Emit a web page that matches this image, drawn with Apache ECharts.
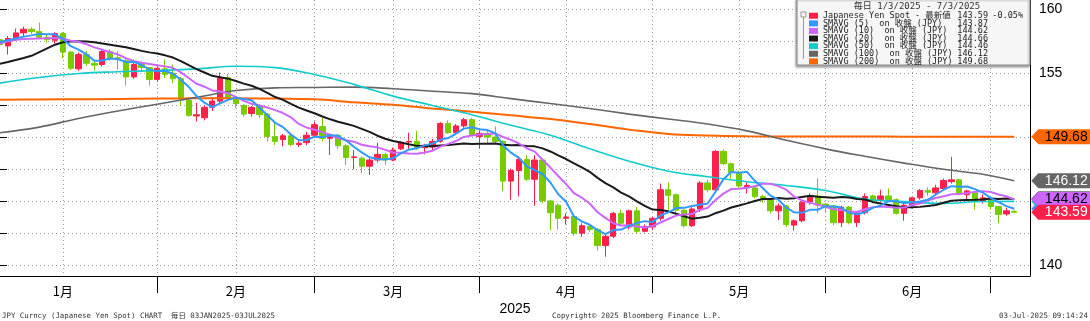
<!DOCTYPE html>
<html><head><meta charset="utf-8">
<script src="https://cdn.jsdelivr.net/npm/echarts@6/dist/echarts.min.js"></script>
<style>html,body{margin:0;padding:0;background:#fff}#c{width:1090px;height:321px}</style>
</head><body><div id="c"></div><script>
// ---------- data ----------
const dates = ['1/3','1/6','1/7','1/8','1/9','1/10','1/13','1/14','1/15','1/16','1/17','1/20','1/21','1/22','1/23','1/24','1/27','1/28','1/29','1/30','1/31',
'2/3','2/4','2/5','2/6','2/7','2/10','2/11','2/12','2/13','2/14','2/17','2/18','2/19','2/20','2/21','2/24','2/25','2/26','2/27','2/28',
'3/3','3/4','3/5','3/6','3/7','3/10','3/11','3/12','3/13','3/14','3/17','3/18','3/19','3/20','3/21','3/24','3/25','3/26','3/27','3/28','3/31',
'4/1','4/2','4/3','4/4','4/7','4/8','4/9','4/10','4/11','4/14','4/15','4/16','4/17','4/18','4/21','4/22','4/23','4/24','4/25','4/28','4/29','4/30',
'5/1','5/2','5/5','5/6','5/7','5/8','5/9','5/12','5/13','5/14','5/15','5/16','5/19','5/20','5/21','5/22','5/23','5/26','5/27','5/28','5/29','5/30',
'6/2','6/3','6/4','6/5','6/6','6/9','6/10','6/11','6/12','6/13','6/16','6/17','6/18','6/19','6/20','6/23','6/24','6/25','6/26','6/27','6/30',
'7/1','7/2','7/3'];
const padCats = ['7/4','7/7'];

const openP = [157.5,157.0,157.65,158.05,158.35,158.15,157.7,157.45,158.0,156.5,
155.15,156.3,155.6,155.5,156.55,156.05,155.8,154.5,155.5,155.25,
154.3,155.15,154.8,154.35,152.6,151.35,151.2,152.05,152.55,154.45,
152.8,152.2,151.55,152.2,151.5,149.7,149.45,149.75,149.05,149.2,
149.8,150.5,149.55,149.8,148.95,148.0,147.95,147.3,147.8,148.25,
147.8,148.7,149.25,149.3,148.8,148.85,149.3,150.75,150.0,150.55,
151.05,149.7,149.95,149.65,149.3,146.1,146.95,147.85,146.25,147.8,
144.5,144.15,143.1,143.25,141.9,142.45,142.2,140.9,141.65,143.5,
142.4,143.7,142.05,142.4,143.1,145.4,145.0,143.75,142.5,143.85,
145.95,145.4,148.5,147.5,146.8,145.65,145.55,144.85,144.6,143.7,
144.1,142.55,142.9,144.45,144.9,144.25,144.1,142.75,144.0,142.75,
143.55,144.9,144.6,144.9,144.6,143.5,144.15,144.75,145.35,145.15,
145.5,146.05,146.2,145.0,145.15,144.5,144.65,144.05,143.45,143.66];
const closeP = [157.1,157.6,158.05,158.35,158.15,157.7,157.5,158.0,156.5,155.2,
156.3,155.6,155.45,156.55,156.05,156.0,154.5,155.5,155.25,154.3,
155.2,154.7,154.35,152.85,151.4,151.45,152.05,152.55,154.4,152.8,
152.35,151.5,152.05,151.45,149.7,149.3,149.75,149.05,149.15,149.8,
150.65,149.55,149.8,148.95,148.0,148.05,147.3,147.8,148.25,147.8,
148.6,149.2,149.3,148.8,149.0,149.3,150.75,150.0,150.55,151.05,
149.85,149.95,149.65,149.3,146.1,146.95,147.85,146.25,147.8,144.5,
143.55,143.1,143.2,141.9,142.5,142.2,140.9,141.65,143.5,142.7,
143.7,142.05,142.4,143.1,145.4,144.95,143.75,142.5,143.85,145.95,
145.4,148.5,147.5,146.8,145.7,145.75,144.85,144.6,143.7,144.1,
142.6,142.9,144.4,144.9,144.15,144.05,142.75,144.0,142.75,143.55,
144.85,144.55,144.9,144.55,143.5,144.15,144.75,145.35,145.2,145.55,
146.15,146.2,145.1,145.3,144.5,144.75,144.05,143.4,143.7,143.59];
const lowP = [156.9,156.3,157.4,157.8,157.95,157.55,157.25,157.2,156.0,155.05,
155.0,155.4,155.0,155.35,155.8,155.1,153.8,154.35,154.9,153.8,
154.1,154.4,154.0,152.2,151.3,150.9,151.0,151.75,152.4,152.6,
152.0,151.3,151.3,151.2,149.3,149.0,148.9,148.9,148.85,149.0,
149.6,149.3,148.2,148.7,147.4,147.05,146.75,146.6,147.6,147.4,
147.7,148.6,148.6,148.6,148.25,148.6,149.2,149.9,149.8,150.4,
149.75,148.7,149.1,149.1,145.3,144.6,144.85,146.1,144.1,144.3,
142.15,142.2,142.6,141.7,141.6,142.0,140.5,140.0,141.5,142.5,
142.2,141.9,141.95,142.15,142.9,143.8,143.5,142.35,142.4,143.6,
145.2,145.3,147.4,146.25,145.5,145.1,144.7,144.35,143.5,142.95,
142.4,142.1,142.8,144.2,143.5,143.6,142.55,142.4,142.6,142.4,
143.4,144.3,144.4,144.4,143.4,142.9,143.9,144.6,144.9,145.0,
145.4,145.9,144.95,144.6,143.8,144.3,143.8,142.7,143.3,143.55];
const highP = [157.6,157.8,158.4,158.55,158.5,158.88,157.9,158.1,158.1,156.6,
156.45,156.6,155.9,156.7,156.75,156.6,155.95,155.9,155.75,155.3,
155.4,155.9,155.5,154.5,152.7,152.4,152.2,152.85,154.85,154.75,
152.95,152.3,152.15,152.3,151.6,150.8,149.9,149.9,149.4,150.05,
150.9,151.2,149.95,149.9,149.1,148.6,148.1,147.95,149.2,148.4,
148.8,149.3,150.0,150.15,149.1,149.5,150.85,151.0,150.7,151.2,
151.2,150.2,150.25,150.5,149.4,147.1,148.1,148.2,148.2,147.9,
144.6,144.3,143.5,143.35,142.7,142.6,142.3,141.8,143.6,143.8,
143.8,144.0,142.6,143.2,145.9,146.0,145.1,143.9,144.0,146.1,
146.2,148.6,148.65,147.6,146.95,146.0,145.7,145.0,144.7,144.3,
144.2,143.0,144.5,145.1,146.3,144.3,144.2,144.1,144.1,143.7,
145.1,145.0,145.4,145.5,144.7,144.3,144.8,145.45,145.6,145.8,
146.3,148.05,146.3,145.4,145.3,145.0,144.7,144.1,143.95,143.75];

const sma5 = [157.32,157.45,157.6,157.75,157.85,157.97,157.95,157.94,157.57,156.98,
156.7,156.32,155.81,155.82,155.99,155.93,155.71,155.72,155.46,155.11,
154.95,154.99,154.76,154.28,153.7,152.95,152.42,152.06,152.37,152.65,
152.83,152.72,152.62,152.03,151.41,150.8,150.45,149.85,149.39,149.41,
149.68,149.64,149.79,149.75,149.39,148.87,148.42,148.02,147.88,147.84,
147.95,148.33,148.63,148.74,148.98,149.12,149.43,149.57,149.92,150.33,
150.44,150.28,150.21,149.96,148.97,148.39,147.97,147.29,146.99,146.67,
145.99,145.04,144.43,143.25,142.85,142.58,142.14,141.83,142.15,142.19,
142.49,142.72,142.87,142.79,143.33,143.58,143.92,143.94,144.09,144.2,
144.29,145.24,146.24,146.83,146.78,146.85,146.12,145.54,144.92,144.6,
143.97,143.58,143.54,143.78,143.79,144.08,144.05,143.97,143.54,143.42,
143.58,143.94,144.12,144.48,144.47,144.33,144.37,144.46,144.59,145.0,
145.4,145.69,145.64,145.66,145.45,145.17,144.74,144.4,144.08,143.87];
const sma10 = [157.2,157.38,157.5,157.55,157.58,157.6,157.62,157.63,157.6,157.42,
157.34,157.14,156.88,156.7,156.49,156.32,156.02,155.77,155.64,155.55,
155.44,155.35,155.24,154.87,154.41,153.95,153.71,153.41,153.33,153.18,
152.89,152.57,152.34,152.2,152.03,151.82,151.59,151.24,150.71,150.41,
150.24,150.05,149.82,149.57,149.4,149.28,149.03,148.91,148.82,148.62,
148.41,148.38,148.33,148.31,148.41,148.54,148.88,149.1,149.33,149.66,
149.78,149.86,149.89,149.94,149.65,149.42,149.13,148.75,148.48,147.82,
147.19,146.51,145.86,145.12,144.76,144.29,143.59,143.13,142.7,142.52,
142.54,142.43,142.35,142.47,142.76,143.04,143.32,143.41,143.44,143.77,
143.94,144.58,145.09,145.46,145.49,145.57,145.68,145.89,145.88,145.69,
145.41,144.85,144.54,144.35,144.2,144.03,143.82,143.76,143.66,143.61,
143.83,144.0,144.05,144.01,143.95,143.96,144.16,144.29,144.54,144.74,
144.87,145.03,145.05,145.13,145.23,145.29,145.22,145.02,144.87,144.62];
const sma20 = [155.55,155.7,155.87,156.03,156.2,156.5,156.8,157.1,157.3,157.35,
157.37,157.35,157.3,157.2,157.1,157.0,156.9,156.75,156.6,156.48,
156.39,156.24,156.06,155.78,155.45,155.13,154.86,154.59,154.48,154.36,
154.17,153.96,153.79,153.54,153.22,152.88,152.65,152.32,152.02,151.79,
151.57,151.31,151.08,150.89,150.72,150.55,150.31,150.07,149.76,149.51,
149.33,149.21,149.07,148.94,148.91,148.91,148.96,149.0,149.07,149.14,
149.1,149.12,149.11,149.13,149.03,148.98,149.0,148.93,148.9,148.74,
148.49,148.18,147.88,147.53,147.21,146.85,146.36,145.94,145.59,145.17,
144.86,144.47,144.1,143.8,143.76,143.66,143.46,143.27,143.07,143.14,
143.24,143.51,143.72,143.97,144.13,144.3,144.5,144.65,144.66,144.73,
144.67,144.72,144.82,144.91,144.84,144.8,144.75,144.82,144.77,144.65,
144.62,144.42,144.29,144.18,144.07,143.99,143.99,144.02,144.1,144.17,
144.35,144.51,144.55,144.57,144.59,144.62,144.69,144.66,144.7,144.66];

// slow averages, read at every 5th session
const maDates = ['1/3','1/10','1/17','1/24','1/31','2/7','2/14','2/21','2/28','3/7','3/14','3/21','3/28','4/4','4/11','4/18','4/25','5/2','5/9','5/16','5/23','5/30','6/6','6/13','6/20','6/27','7/3'];
const sma50 = [154.0,154.45,154.78,154.92,155.02,155.15,155.36,155.25,154.7,153.9,152.95,152.2,151.45,150.6,149.8,148.7,147.7,146.9,146.45,146.05,145.75,145.34,144.65,144.45,144.3,144.45,144.46];
const sma100 = [150.0,150.45,151.15,151.75,152.3,152.85,153.4,153.62,153.65,153.68,153.55,153.35,153.15,152.75,152.35,151.95,151.5,151.1,150.7,150.15,149.4,148.7,148.1,147.55,147.05,146.65,146.12];
const sma200 = [152.65,152.68,152.7,152.72,152.75,152.78,152.78,152.75,152.7,152.45,152.25,151.95,151.7,151.4,151.1,150.7,150.25,149.9,149.78,149.72,149.7,149.7,149.7,149.68,149.68,149.68,149.68];

const gridDates = ['1/15','1/31','2/14','2/28','3/14','3/31','4/15','4/30','5/15','5/30','6/16','6/30'];
const monthEndDates = ['1/31','2/28','3/31','4/30','5/30','6/30'];
const monthLabelDates = ['1/15','2/14','3/14','4/15','5/15','6/16'];
const monthLabels = ['1月','2月','3月','4月','5月','6月'];
const yTickLabels = [140,145,150,155,160];
const yearLabel = '2025';
const seriesNames = ['Japanese Yen Spot - 最新値','SMAVG (5)  on 收盤 (JPY)','SMAVG (10)  on 收盤 (JPY)','SMAVG (20)  on 收盤 (JPY)','SMAVG (50)  on 收盤 (JPY)','SMAVG (100)  on 收盤 (JPY)','SMAVG (200)  on 收盤 (JPY)'];
const lastChange = '-0.05%';
const legendTitle = '毎日 1/3/2025 - 7/3/2025';
const footerLeft = 'JPY Curncy (Japanese Yen Spot) CHART  毎日 03JAN2025-03JUL2025';
const footerCenter = 'Copyright© 2025 Bloomberg Finance L.P.';
const footerRight = '03-Jul-2025 09:14:24';

// ---------- styling ----------
const FONT = "'Liberation Sans','Noto Sans CJK JP',sans-serif";
const MONO = "'DejaVu Sans Mono','Noto Sans CJK JP',monospace";
const COL = {up:'#ff1f4b', down:'#77cc00', s5:'#3399ff', s10:'#cc66ff', s20:'#1a1a1a', s50:'#11cccc', s100:'#666666', s200:'#ff6600'};
const legendColors = [COL.up, COL.s5, COL.s10, COL.s20, COL.s50, COL.s100, COL.s200];

const cats = dates.concat(padCats);
const lastCat = dates[dates.length - 1];
const candleData = dates.map((d, i) => [openP[i], closeP[i], lowP[i], highP[i]]);
const last = a => a[a.length - 1];
const lastVals = [last(closeP), last(sma5), last(sma10), last(sma20), last(sma50), last(sma100), last(sma200)];

function tag(val, bg, fg, z) {
  return {
    silent: true, z: z,
    symbol: 'path://M0,7L7,0L64,0L64,14L7,14Z',
    symbolSize: [64, 15], symbolOffset: [49, 0],
    itemStyle: {color: bg},
    label: {show: true, position: 'inside', offset: [3, 0], color: fg, fontSize: 14, fontFamily: FONT,
      formatter: () => val.toFixed(2)},
    data: [{coord: [lastCat, val], value: val}]
  };
}
function lineSeries(name, data, color, width, z, tg) {
  return {name, type: 'line', xAxisIndex: 0, yAxisIndex: 0, data, showSymbol: false, symbol: 'none',
    lineStyle: {color, width}, itemStyle: {color}, z, animation: false, connectNulls: true,
    smooth: Array.isArray(data[0]) ? 0.4 : false, markPoint: tg};
}
const pairs = arr => maDates.map((d, i) => [d, arr[i]]);
const LH = 7.33;
const richStyle = extra => Object.assign({fontSize: 8.5, lineHeight: LH, height: LH, fontFamily: MONO, color: '#222'}, extra);

const chart = echarts.init(document.getElementById('c'), null, {renderer: 'canvas'});
chart.setOption({
  animation: false,
  backgroundColor: '#ffffff',
  textStyle: {fontFamily: FONT},
  grid: [
    {left: 0, right: 60, top: 0, bottom: 36},
    {left: 0, right: 60, top: 9, bottom: 56}
  ],
  title: [
    {text: footerLeft, left: 2, bottom: 1, padding: 0, textStyle: {fontSize: 7.4, fontFamily: MONO, fontWeight: 'normal', color: '#333'}},
    {text: footerCenter, left: 552, bottom: 1, padding: 0, textStyle: {fontSize: 7.4, fontFamily: MONO, fontWeight: 'normal', color: '#333'}},
    {text: footerRight, right: 2, bottom: 1, padding: 0, textStyle: {fontSize: 7.4, fontFamily: MONO, fontWeight: 'normal', color: '#333'}}
  ],
  xAxis: [
    {type: 'category', gridIndex: 0, data: cats, boundaryGap: false,
     axisLine: {show: true, lineStyle: {color: '#000', width: 1}},
     axisTick: {show: true, length: 17, lineStyle: {color: '#000', width: 1},
       interval: (i, v) => monthEndDates.includes(v)},
     axisLabel: {show: true, margin: 8, color: '#000', fontSize: 13, fontFamily: "'Noto Sans CJK JP',sans-serif",
       interval: (i, v) => monthLabelDates.includes(v),
       formatter: v => monthLabels[monthLabelDates.indexOf(v)] || ''},
     splitLine: {show: true, lineStyle: {color: '#9a9a9a', width: 1, type: [1, 3]},
       interval: (i, v) => gridDates.includes(v)},
     name: yearLabel, nameLocation: 'middle', nameGap: 15,
     nameTextStyle: {fontSize: 14, color: '#000', fontFamily: FONT}},
    {type: 'value', gridIndex: 1, min: 0, max: 1, show: false}
  ],
  yAxis: [
    {type: 'value', gridIndex: 0, position: 'right', min: 138.4375, max: 160.703, scale: true,
     axisLine: {show: true, onZero: false, lineStyle: {color: '#000', width: 1}},
     axisTick: {show: false}, axisLabel: {show: false}, splitLine: {show: false}},
    {type: 'value', gridIndex: 1, position: 'right', min: 140, max: 160, interval: 2.5,
     axisLine: {show: false},
     axisTick: {show: true, length: 7, lineStyle: {color: '#000'}},
     axisLabel: {show: true, margin: 9, color: '#000', fontSize: 14, fontFamily: FONT,
       formatter: v => yTickLabels.includes(v) ? String(v) : ''},
     splitLine: {show: true, lineStyle: {color: '#9a9a9a', width: 1, type: [1, 3]}}}
  ],
  legend: {
    orient: 'vertical', left: 809, top: 11.5, padding: 0, itemGap: -0.9, itemWidth: 9, itemHeight: 6,
    selectedMode: false, z: 20,
    data: seriesNames.map((n, i) => ({name: n, icon: 'rect', itemStyle: {color: legendColors[i], borderWidth: 0}})),
    formatter: name => {
      const i = seriesNames.indexOf(name);
      return '{n|' + name + '}{v|' + lastVals[i].toFixed(2) + '}' + (i === 0 ? '{p|' + lastChange + '}' : '');
    },
    textStyle: {fontSize: 8.5, lineHeight: LH, height: LH, color: '#222', fontFamily: MONO,
      rich: {n: richStyle({width: 135}), v: richStyle({width: 30, align: 'right'}), p: richStyle({width: 35, align: 'right'})}}
  },
  graphic: [
    {type: 'rect', z: 15, shape: {x: 797, y: -2, width: 233, height: 67},
     style: {fill: '#f6f6f6', stroke: '#8a8a8a', lineWidth: 1, shadowBlur: 2, shadowOffsetX: -1, shadowOffsetY: 2, shadowColor: 'rgba(0,0,0,0.35)'}},
    {type: 'text', z: 16, style: {text: legendTitle, x: 917, y: 7, align: 'center', verticalAlign: 'middle', fontSize: 9, fontFamily: MONO, fill: '#333'}},
    {type: 'rect', z: 16, shape: {x: 801, y: 12, width: 5, height: 5}, style: {fill: 'none', stroke: '#999', lineWidth: 1}},
    {type: 'line', z: 16, shape: {x1: 803.5, y1: 17, x2: 803.5, y2: 59}, style: {stroke: '#999', lineWidth: 1}}
  ],
  series: [
    {name: seriesNames[0], type: 'candlestick', xAxisIndex: 0, yAxisIndex: 0, data: candleData, barWidth: '74%', z: 2,
     itemStyle: {color: COL.up, color0: COL.down, borderColor: COL.up, borderColor0: COL.down, borderWidth: 1},
     markPoint: tag(last(closeP), COL.up, '#fff', 30)},
    lineSeries(seriesNames[6], pairs(sma200), COL.s200, 2, 3, tag(last(sma200), COL.s200, '#000', 22)),
    lineSeries(seriesNames[5], pairs(sma100), COL.s100, 1.6, 3, tag(last(sma100), COL.s100, '#fff', 22)),
    lineSeries(seriesNames[4], pairs(sma50), COL.s50, 1.6, 3, tag(last(sma50), COL.s50, '#000', 23)),
    lineSeries(seriesNames[3], sma20, COL.s20, 2, 4, tag(last(sma20), COL.s20, '#fff', 24)),
    lineSeries(seriesNames[2], sma10, COL.s10, 2, 4, tag(last(sma10), COL.s10, '#000', 27)),
    lineSeries(seriesNames[1], sma5, COL.s5, 2, 5, tag(last(sma5), COL.s5, '#fff', 25))
  ]
});
</script></body></html>
